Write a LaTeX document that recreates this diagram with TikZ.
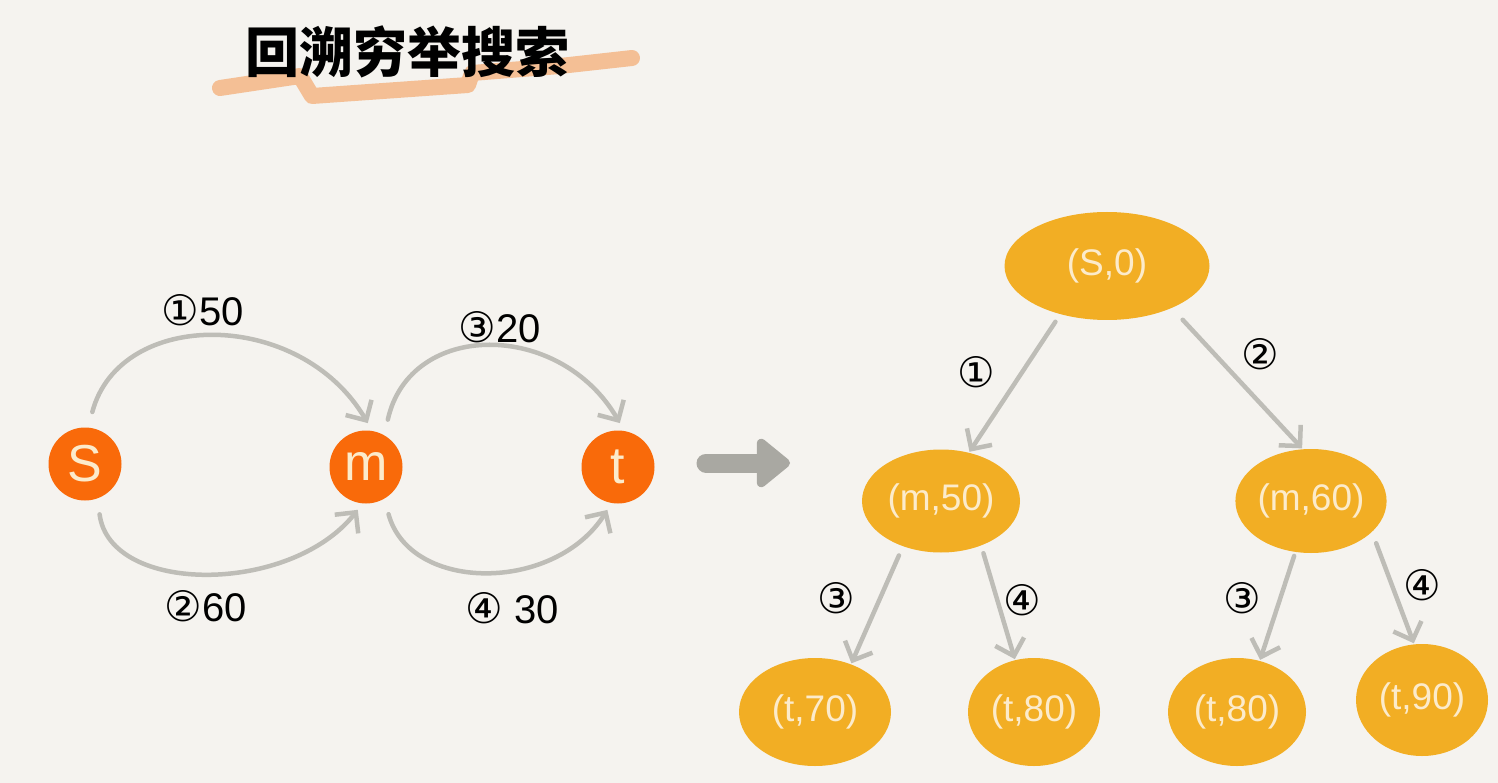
\documentclass[tikz,border=0pt]{standalone}
\usepackage{fontspec}
\setmainfont{Liberation Sans}
\newfontfamily\cjkfont{Noto Sans CJK SC}
\newfontfamily\symfont{DejaVu Sans}
\usetikzlibrary{arrows.meta,shapes.geometric}
\definecolor{bgc}{HTML}{F5F3EF}
\definecolor{vert}{HTML}{F96A0A}
\definecolor{blob}{HTML}{F2AE24}
\definecolor{cream}{HTML}{FCEBCB}
\definecolor{edgegray}{HTML}{BEBDB7}
\definecolor{bigarrow}{HTML}{A9A8A2}
\definecolor{brush}{HTML}{F4AE78}
\newcommand{\circnum}[1]{{\symfont\fontsize{42}{42}\selectfont #1}}
\tikzset{
  vertex/.style={circle,fill=vert,minimum size=73pt,inner sep=0pt,text=cream,font=\fontsize{52}{52}\selectfont},
  treenode/.style={ellipse,fill=blob,inner sep=0pt,text=cream,font=\fontsize{37}{37}\selectfont},
  gedge/.style={draw=edgegray,line width=4.5pt,line cap=round,-{Straight Barb[length=15pt,width=30pt,line width=4.5pt]}},
  elabel/.style={font=\fontsize{40}{40}\selectfont,text=black,inner sep=0pt},
  tlabel/.style={font=\symfont\fontsize{42}{42}\selectfont,text=black,inner sep=0pt}
}
\begin{document}
\begin{tikzpicture}[x=1pt,y=-1pt]
\useasboundingbox (0,0) rectangle (1498,783);
\fill[bgc] (0,0) rectangle (1498,783);

% title with brush stroke
\draw[brush,opacity=0.75,line width=16pt,line cap=round,line join=round]
  (220,88) -- (300,76) -- (312,96) -- (468,85) -- (472,73) -- (560,66) -- (632,58);
\node[font=\cjkfont\bfseries\fontsize{54}{54}\selectfont,text=black] (title) at (407,52) {回溯穷举搜索};

% left graph
\node[vertex] (s) at (85,464) {S};
\node[vertex] (m) at (366,467) {m};
\node[vertex] (t) at (618,467) {t};

\draw[gedge,shorten <=16pt,shorten >=9pt] (s.85) .. controls (120,308) and (300,308) .. (m.80);
\draw[gedge,shorten <=16pt,shorten >=8pt] (s.-70) .. controls (110,595) and (290,595) .. (m.-95);
\draw[gedge,shorten <=16pt,shorten >=9pt] (m.60) .. controls (410,320) and (560,320) .. (t.80);
\draw[gedge,shorten <=16pt,shorten >=8pt] (m.-60) .. controls (410,593) and (555,593) .. (t.-100);

\node[elabel] (l1) at (203,310) {\circnum{①}50};
\node[elabel] (l2) at (206,606) {\circnum{②}60};
\node[elabel] (l3) at (500,327) {\circnum{③}20};
\node[elabel] (l4) at (512,608) {\circnum{④} 30};

% big arrow
\coordinate (ba1) at (706,463);
\coordinate (ba2) at (790,463);
\draw[bigarrow,line width=19pt,line cap=round,-{Triangle[length=36pt,width=56pt,round]}] (ba1) -- (ba2);

% tree
\node[treenode,minimum width=205pt,minimum height=108pt] (root) at (1107,266) {(S,0)};
\node[treenode,minimum width=158pt,minimum height=103pt] (m50) at (941,501) {(m,50)};
\node[treenode,minimum width=150pt,minimum height=104pt] (m60) at (1311,501) {(m,60)};
\node[treenode,minimum width=152pt,minimum height=108pt] (t70) at (815,712) {(t,70)};
\node[treenode,minimum width=132pt,minimum height=108pt] (t80a) at (1034,712) {(t,80)};
\node[treenode,minimum width=138pt,minimum height=108pt] (t80b) at (1237,712) {(t,80)};
\node[treenode,minimum width=132pt,minimum height=112pt] (t90) at (1422,700) {(t,90)};

\draw[gedge,shorten <=9pt,shorten >=1pt] (root.-134) -- (m50.60);
\draw[gedge,shorten <=16pt,shorten >=1pt] (root.-33) -- (m60.99);
\draw[gedge,shorten <=10pt,shorten >=1pt] (m50.-130) -- (t70.53);
\draw[gedge,shorten <=8pt,shorten >=1pt] (m50.-48) -- (t80a.110);
\draw[gedge,shorten <=4pt,shorten >=1pt] (m60.-107) -- (t80b.66);
\draw[gedge,shorten <=12pt,shorten >=1pt] (m60.-27) -- (t90.98);

\node[tlabel] (n1) at (976,372) {①};
\node[tlabel] (n2) at (1260,354) {②};
\node[tlabel] (n3) at (836,598) {③};
\node[tlabel] (n4) at (1022,600) {④};
\node[tlabel] (n5) at (1242,598) {③};
\node[tlabel] (n6) at (1422,585) {④};
\end{tikzpicture}
\end{document}
